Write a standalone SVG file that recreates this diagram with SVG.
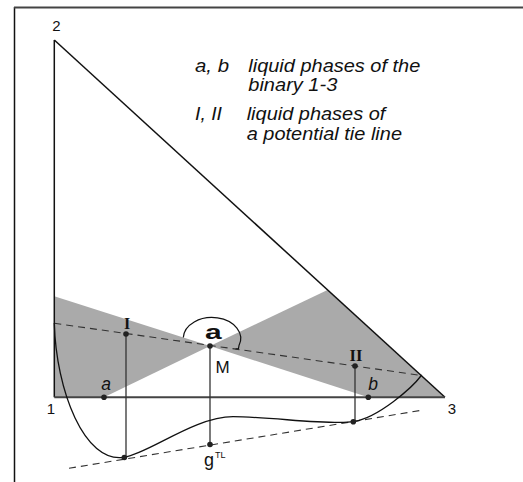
<svg xmlns="http://www.w3.org/2000/svg" width="523" height="482" viewBox="0 0 523 482">
<style>
.sans{font-family:"Liberation Sans",Arial,sans-serif;fill:#111}
.serif{font-family:"Liberation Serif","Times New Roman",serif;fill:#111;font-weight:bold}
.it{font-style:italic}
.leg{font-size:17.5px}
.dash{fill:none;stroke:#333;stroke-width:1.1;stroke-dasharray:7,5}
.vl{stroke:#333;stroke-width:1.3}
.dot{fill:#222}
.shade{fill:#aaaaaa}
</style>
<rect width="523" height="482" fill="#fff"/>
<g id="frame">
<line x1="14.5" y1="7" x2="14.5" y2="482" stroke="#111" stroke-width="1.5"/>
<line x1="14" y1="7.5" x2="523" y2="7.5" stroke="#444" stroke-width="2"/>
</g>
<g id="shading">
<polygon class="shade" points="54.3,296.3 210,346 104,397.3 54.3,397.3"/>
<polygon class="shade" points="210,346 327.5,290 445,397.3 368.3,397.3"/>
</g>
<g id="triangle">
<line x1="54.3" y1="40" x2="54.3" y2="397.3" stroke="#111" stroke-width="1.5"/>
<line x1="54.3" y1="40" x2="445" y2="397.3" stroke="#111" stroke-width="1.5"/>
<line x1="54.3" y1="397.3" x2="445" y2="397.3" stroke="#444" stroke-width="2"/>
<text class="sans" x="56.5" y="31" font-size="15" text-anchor="middle">2</text>
<text class="sans" x="51" y="414" font-size="15" text-anchor="middle">1</text>
<text class="sans" x="452" y="414" font-size="15" text-anchor="middle">3</text>
</g>
<g id="connectors">
<line class="dash" x1="54.3" y1="323.3" x2="421.7" y2="375.5"/>
<line class="dash" x1="69" y1="468.3" x2="423.3" y2="410"/>
<line class="vl" x1="126" y1="334" x2="126" y2="457.5"/>
<line class="vl" x1="210" y1="346" x2="210" y2="444.5"/>
<line class="vl" x1="355" y1="366" x2="355" y2="421.5"/>
<path d="M54.3,323 C56,390 84.3,463.9 124.3,457.3 C149.3,453.2 195,416.7 233,416.7 C270,416.7 330,425.5 353.3,421.7 C378.3,417.6 412,388 421.7,375" fill="none" stroke="#111" stroke-width="1.3"/>
<path d="M183.3,337.5 A28.7,21 0 1 1 239,345.5 L238.5,348.5 L235.5,349" fill="none" stroke="#111" stroke-width="1.2"/>
</g>
<g id="point-I">
<circle class="dot" cx="126" cy="334" r="2.8"/>
<text class="serif" x="127" y="328.5" font-size="16" text-anchor="middle">I</text>
</g>
<g id="point-M">
<circle class="dot" cx="210" cy="346" r="2.8"/>
<text class="sans" x="215.5" y="373" font-size="17">M</text>
<text class="sans" x="205" y="338.5" font-size="21" font-weight="bold" textLength="16.7" lengthAdjust="spacingAndGlyphs">a</text>
</g>
<g id="point-II">
<circle class="dot" cx="355" cy="366" r="2.8"/>
<text class="serif" x="356" y="361" font-size="16.5" text-anchor="middle">II</text>
</g>
<g id="point-a">
<circle class="dot" cx="104" cy="397.3" r="2.8"/>
<text class="sans it" x="106" y="389.5" font-size="17.5" text-anchor="middle">a</text>
</g>
<g id="point-b">
<circle class="dot" cx="368.3" cy="397.3" r="2.8"/>
<text class="sans it" x="373" y="389.5" font-size="17.5" text-anchor="middle">b</text>
</g>
<g id="tangent-points">
<circle class="dot" cx="124.3" cy="457.5" r="2.8"/>
<circle class="dot" cx="353.3" cy="421.7" r="2.8"/>
</g>
<g id="point-gTL">
<circle class="dot" cx="210" cy="444.5" r="2.8"/>
<text class="sans" x="204" y="466" font-size="18">g</text>
<text class="sans" x="215" y="458" font-size="9">TL</text>
</g>
<g id="legend">
<text class="sans it leg" x="195" y="71.5" textLength="34" lengthAdjust="spacingAndGlyphs">a, b</text>
<text class="sans it leg" x="248.3" y="71.5" textLength="172" lengthAdjust="spacingAndGlyphs">liquid phases of the</text>
<text class="sans it leg" x="248.3" y="91" textLength="89" lengthAdjust="spacingAndGlyphs">binary 1-3</text>
<text class="sans it leg" x="195" y="119.5" textLength="27" lengthAdjust="spacingAndGlyphs">I, II</text>
<text class="sans it leg" x="246.7" y="119.5" textLength="138.6" lengthAdjust="spacingAndGlyphs">liquid phases of</text>
<text class="sans it leg" x="246.7" y="139.5" textLength="155.3" lengthAdjust="spacingAndGlyphs">a potential tie line</text>
</g>
</svg>
